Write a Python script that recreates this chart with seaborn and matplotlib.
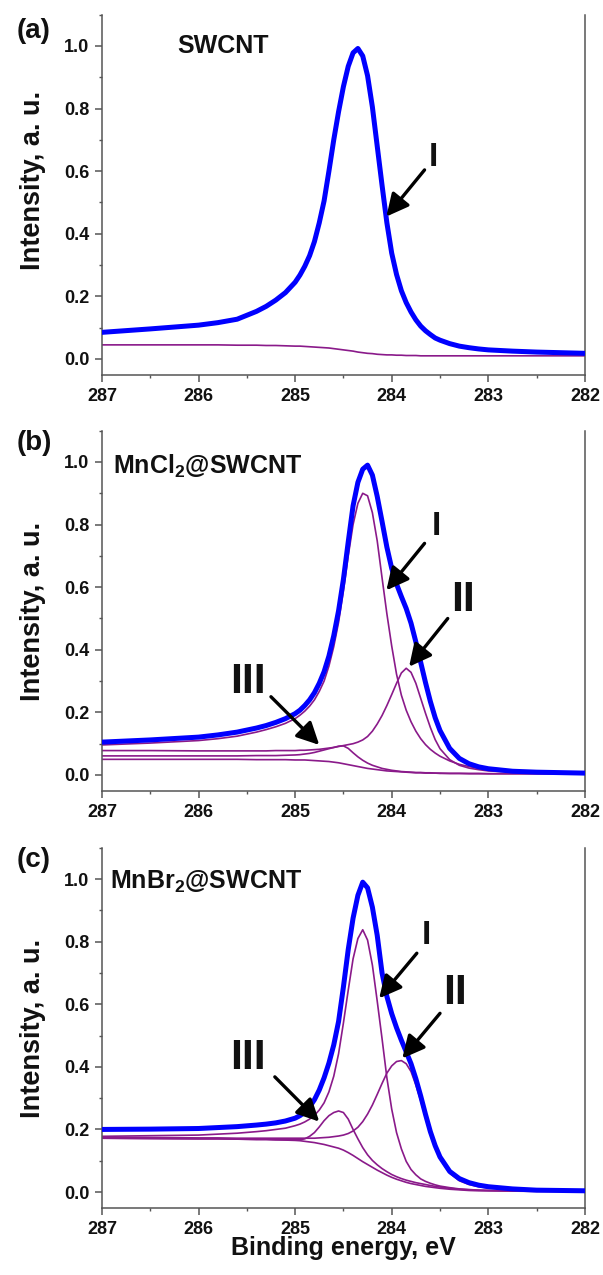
import matplotlib
matplotlib.use("Agg")
import matplotlib.pyplot as plt
import pandas as pd
import seaborn as sns
from matplotlib.ticker import MultipleLocator

# Binding-energy grid shared by every curve (eV)
energy = [287.0, 286.5, 286.0, 285.8, 285.6, 285.4, 285.3, 285.2, 285.1, 285.0,
          284.95, 284.9, 284.85, 284.8, 284.75, 284.7, 284.65, 284.6, 284.55, 284.5,
          284.45, 284.4, 284.35, 284.3, 284.25, 284.2, 284.15, 284.1, 284.05, 284.0,
          283.95, 283.9, 283.85, 283.8, 283.75, 283.7, 283.65, 283.6, 283.55, 283.5,
          283.4, 283.3, 283.2, 283.1, 283.0, 282.75, 282.5, 282.0]

# (a) pristine SWCNT
swcnt_envelope = [0.085, 0.096, 0.108, 0.116, 0.127, 0.152, 0.168, 0.188, 0.212, 0.245,
                  0.268, 0.296, 0.330, 0.375, 0.435, 0.505, 0.600, 0.700, 0.790, 0.870,
                  0.935, 0.978, 0.992, 0.968, 0.905, 0.805, 0.680, 0.555, 0.435, 0.338,
                  0.270, 0.218, 0.180, 0.150, 0.125, 0.105, 0.090, 0.078, 0.067, 0.060,
                  0.049, 0.041, 0.036, 0.032, 0.029, 0.025, 0.022, 0.018]
swcnt_background = [0.045, 0.045, 0.045, 0.045, 0.044, 0.044, 0.043, 0.043, 0.042, 0.041,
                    0.041, 0.040, 0.039, 0.038, 0.037, 0.036, 0.035, 0.033, 0.031, 0.029,
                    0.027, 0.025, 0.022, 0.020, 0.018, 0.017, 0.015, 0.014, 0.013, 0.013,
                    0.012, 0.012, 0.011, 0.011, 0.011, 0.010, 0.010, 0.010, 0.010, 0.010,
                    0.010, 0.010, 0.010, 0.010, 0.010, 0.010, 0.010, 0.010]

# (b) MnCl2@SWCNT
mncl2_envelope = [0.105, 0.112, 0.121, 0.128, 0.137, 0.150, 0.158, 0.168, 0.180, 0.196,
                  0.207, 0.222, 0.240, 0.263, 0.293, 0.330, 0.380, 0.445, 0.525, 0.625,
                  0.745, 0.860, 0.935, 0.977, 0.990, 0.958, 0.890, 0.810, 0.728, 0.660,
                  0.610, 0.570, 0.532, 0.485, 0.425, 0.360, 0.295, 0.235, 0.183, 0.142,
                  0.085, 0.053, 0.036, 0.026, 0.020, 0.012, 0.009, 0.006]
mncl2_peak1 = [0.096, 0.102, 0.110, 0.116, 0.124, 0.137, 0.145, 0.154, 0.165, 0.180,
               0.191, 0.204, 0.220, 0.240, 0.267, 0.300, 0.348, 0.410, 0.488, 0.588,
               0.700, 0.800, 0.868, 0.900, 0.892, 0.838, 0.748, 0.630, 0.515, 0.412,
               0.322, 0.255, 0.207, 0.170, 0.140, 0.116, 0.097, 0.082, 0.070, 0.060,
               0.045, 0.034, 0.027, 0.021, 0.017, 0.011, 0.008, 0.005]
mncl2_peak2 = [0.078, 0.078, 0.077, 0.077, 0.077, 0.077, 0.077, 0.078, 0.078, 0.078,
               0.079, 0.079, 0.080, 0.081, 0.082, 0.084, 0.086, 0.088, 0.091, 0.094,
               0.097, 0.100, 0.105, 0.112, 0.123, 0.140, 0.163, 0.190, 0.222, 0.257,
               0.293, 0.326, 0.341, 0.328, 0.293, 0.245, 0.197, 0.152, 0.113, 0.084,
               0.049, 0.031, 0.022, 0.017, 0.013, 0.009, 0.007, 0.005]
mncl2_peak3 = [0.061, 0.061, 0.061, 0.061, 0.061, 0.062, 0.062, 0.062, 0.063, 0.064,
               0.065, 0.067, 0.069, 0.072, 0.076, 0.080, 0.084, 0.088, 0.092, 0.093,
               0.085, 0.071, 0.058, 0.047, 0.038, 0.031, 0.026, 0.021, 0.018, 0.015,
               0.013, 0.011, 0.010, 0.009, 0.008, 0.008, 0.007, 0.007, 0.006, 0.006,
               0.005, 0.005, 0.005, 0.005, 0.004, 0.004, 0.004, 0.004]
mncl2_background = [0.050, 0.050, 0.050, 0.050, 0.050, 0.049, 0.049, 0.049, 0.049, 0.048,
                    0.048, 0.048, 0.047, 0.046, 0.045, 0.044, 0.043, 0.041, 0.039, 0.036,
                    0.033, 0.030, 0.027, 0.024, 0.021, 0.019, 0.017, 0.015, 0.013, 0.012,
                    0.011, 0.010, 0.009, 0.008, 0.007, 0.007, 0.006, 0.006, 0.006, 0.005,
                    0.005, 0.005, 0.004, 0.004, 0.004, 0.004, 0.004, 0.004]

# (c) MnBr2@SWCNT
mnbr2_envelope = [0.200, 0.201, 0.203, 0.206, 0.209, 0.214, 0.217, 0.221, 0.227, 0.236,
                  0.244, 0.255, 0.272, 0.295, 0.326, 0.365, 0.412, 0.470, 0.545, 0.655,
                  0.775, 0.875, 0.948, 0.990, 0.972, 0.910, 0.820, 0.700, 0.625, 0.570,
                  0.525, 0.485, 0.448, 0.410, 0.362, 0.307, 0.248, 0.193, 0.148, 0.112,
                  0.066, 0.043, 0.030, 0.022, 0.017, 0.010, 0.006, 0.004]
mnbr2_peak1 = [0.178, 0.180, 0.182, 0.185, 0.188, 0.193, 0.196, 0.200, 0.204, 0.212,
               0.217, 0.224, 0.233, 0.245, 0.262, 0.285, 0.320, 0.370, 0.442, 0.540,
               0.645, 0.745, 0.810, 0.838, 0.805, 0.725, 0.610, 0.490, 0.365, 0.265,
               0.190, 0.138, 0.098, 0.072, 0.055, 0.042, 0.034, 0.028, 0.023, 0.019,
               0.014, 0.010, 0.008, 0.006, 0.005, 0.004, 0.003, 0.003]
mnbr2_peak2 = [0.175, 0.174, 0.173, 0.173, 0.172, 0.172, 0.172, 0.172, 0.172, 0.172,
               0.172, 0.172, 0.172, 0.172, 0.173, 0.174, 0.175, 0.177, 0.179, 0.182,
               0.187, 0.195, 0.207, 0.225, 0.249, 0.278, 0.312, 0.347, 0.380, 0.403,
               0.417, 0.420, 0.410, 0.385, 0.342, 0.292, 0.238, 0.188, 0.143, 0.106,
               0.060, 0.036, 0.024, 0.017, 0.013, 0.008, 0.005, 0.004]
mnbr2_peak3 = [0.172, 0.171, 0.170, 0.170, 0.169, 0.168, 0.168, 0.167, 0.167, 0.167,
               0.167, 0.170, 0.178, 0.190, 0.208, 0.228, 0.244, 0.254, 0.259, 0.254,
               0.233, 0.200, 0.170, 0.142, 0.119, 0.101, 0.087, 0.075, 0.065, 0.056,
               0.049, 0.043, 0.038, 0.034, 0.030, 0.027, 0.024, 0.021, 0.018, 0.016,
               0.012, 0.009, 0.007, 0.006, 0.005, 0.004, 0.003, 0.003]
mnbr2_background = [0.172, 0.171, 0.170, 0.170, 0.169, 0.168, 0.168, 0.167, 0.166, 0.165,
                    0.164, 0.162, 0.160, 0.158, 0.155, 0.152, 0.148, 0.144, 0.140, 0.134,
                    0.126, 0.117, 0.107, 0.097, 0.088, 0.079, 0.070, 0.062, 0.054, 0.047,
                    0.041, 0.036, 0.031, 0.027, 0.024, 0.021, 0.018, 0.016, 0.014, 0.012,
                    0.009, 0.007, 0.005, 0.004, 0.004, 0.003, 0.002, 0.002]

panel_letters = ["(a)", "(b)", "(c)"]
sample_names = ["SWCNT", "MnCl$_2$@SWCNT", "MnBr$_2$@SWCNT"]
x_ticks = [287, 286, 285, 284, 283, 282]
y_ticks = [0.0, 0.2, 0.4, 0.6, 0.8, 1.0]

# label, font size, text position, arrow tail, arrow tip (data coordinates)
panels = [
    dict(envelope=swcnt_envelope,
         components={"background": swcnt_background},
         name_xy=(286.22, 0.977), ylabel_y=0.54,
         arrows=[("I", 24, (283.57, 0.645), (283.66, 0.604), (284.055, 0.455))]),
    dict(envelope=mncl2_envelope,
         components={"I": mncl2_peak1, "II": mncl2_peak2, "III": mncl2_peak3,
                     "background": mncl2_background},
         name_xy=(286.89, 0.963), ylabel_y=0.5,
         arrows=[("I", 24, (283.54, 0.793), (283.66, 0.74), (284.055, 0.59)),
                 ("II", 31, (283.26, 0.559), (283.42, 0.50), (283.82, 0.346)),
                 ("III", 31, (285.49, 0.298), (285.25, 0.25), (284.75, 0.096))]),
    dict(envelope=mnbr2_envelope,
         components={"I": mnbr2_peak1, "II": mnbr2_peak2, "III": mnbr2_peak3,
                     "background": mnbr2_background},
         name_xy=(286.92, 0.970), ylabel_y=0.5,
         arrows=[("I", 24, (283.64, 0.821), (283.74, 0.763), (284.13, 0.619)),
                 ("II", 31, (283.34, 0.635), (283.50, 0.571), (283.89, 0.427)),
                 ("III", 31, (285.49, 0.427), (285.21, 0.368), (284.75, 0.225))]),
]

sns.set_theme(style="ticks")
plt.rcParams["font.family"] = ["Liberation Sans", "DejaVu Sans"]
plt.rcParams["font.weight"] = "bold"
plt.rcParams["mathtext.fontset"] = "custom"
plt.rcParams["mathtext.rm"] = "Liberation Sans:bold"
plt.rcParams["mathtext.default"] = "rm"

BLUE = "#0000ff"
PURPLE = "#8a1a8a"
AXIS = "#555555"
INK = "#111111"

fig = plt.figure(figsize=(6.03, 12.75), dpi=100)
left, width, height = 0.169, 0.801, 0.2828
bottoms = [0.7057, 0.3794, 0.0523]
letter_y = [31, 443, 860]

for i, p in enumerate(panels):
    ax = fig.add_axes([left, bottoms[i], width, height])

    comp = pd.concat(
        [pd.DataFrame({"energy": energy, "intensity": vals, "component": key})
         for key, vals in p["components"].items()],
        ignore_index=True)
    sns.lineplot(data=comp, x="energy", y="intensity", units="component",
                 estimator=None, color=PURPLE, lw=1.2, sort=False, ax=ax, zorder=2)
    env = pd.DataFrame({"energy": energy, "intensity": p["envelope"]})
    sns.lineplot(data=env, x="energy", y="intensity", color=BLUE, lw=3.6,
                 sort=False, ax=ax, zorder=3)

    ax.set_xlim(287, 282)
    ax.set_ylim(-0.052, 1.1)
    ax.set_xticks(x_ticks)
    ax.set_yticks(y_ticks)
    ax.set_xticklabels([str(t) for t in x_ticks])
    ax.set_yticklabels([f"{t:.1f}" for t in y_ticks])
    ax.xaxis.set_minor_locator(MultipleLocator(0.5))
    ax.yaxis.set_minor_locator(MultipleLocator(0.1))
    ax.tick_params(which="major", direction="out", length=5, width=1.1,
                   color=AXIS, labelsize=13, labelcolor=INK)
    ax.tick_params(which="minor", direction="out", length=2.5, width=1.0, color=AXIS)
    ax.tick_params(axis="y", which="major", pad=4.0)
    ax.tick_params(axis="x", which="major", pad=4.0)
    for lab in ax.get_xticklabels() + ax.get_yticklabels():
        lab.set_fontweight("bold")

    for side in ("left", "bottom", "right"):
        ax.spines[side].set_color(AXIS)
        ax.spines[side].set_linewidth(1.1)
        ax.spines[side].set_visible(True)
    ax.spines["top"].set_visible(False)

    ax.set_ylabel("Intensity, a. u.", fontsize=19.5, fontweight="bold", va="center",
                  color=INK)
    ax.yaxis.set_label_coords(-0.143, p["ylabel_y"])
    if i == 2:
        ax.set_xlabel("Binding energy, eV", fontsize=18, fontweight="bold",
                      va="center", color=INK)
        ax.xaxis.set_label_coords(0.5, -0.111)
    else:
        ax.set_xlabel("")

    ax.text(*p["name_xy"], sample_names[i], ha="left", va="baseline",
            fontsize=18, fontweight="bold", color=INK)

    for label, size, text_xy, tail, tip in p["arrows"]:
        ax.annotate("", xy=tip, xytext=tail,
                    arrowprops=dict(arrowstyle="-|>,head_length=0.9,head_width=0.45",
                                    mutation_scale=15, lw=2.4, color="black",
                                    shrinkA=0, shrinkB=0),
                    zorder=5)
        ax.text(*text_xy, label, ha="center", va="center", fontsize=size,
                fontweight="bold", color=INK)

    fig.text(17 / 603, 1 - letter_y[i] / 1275, panel_letters[i], ha="left",
             va="center", fontsize=20, fontweight="bold", color=INK)

fig.savefig("out.png", dpi=100)
